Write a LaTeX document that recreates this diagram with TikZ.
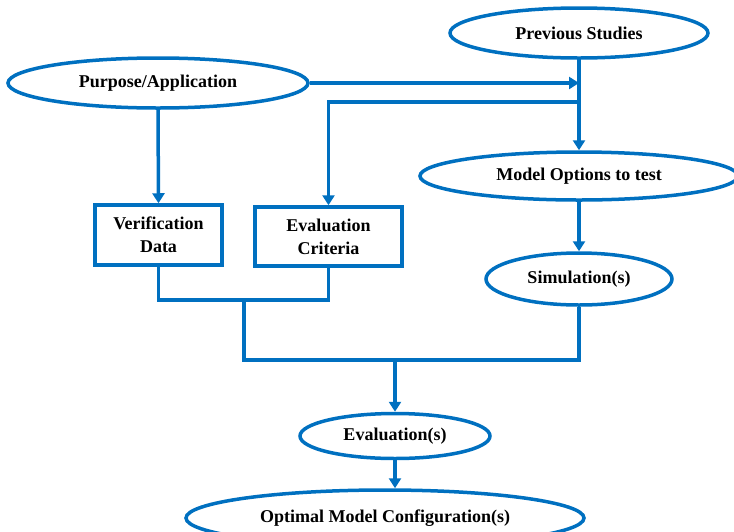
\documentclass[tikz,border=0pt]{standalone}
\usepackage{fontspec}
\setmainfont{Liberation Serif}
\usetikzlibrary{shapes.geometric,arrows.meta}
\definecolor{flowblue}{RGB}{0,112,192}
\begin{document}
\begin{tikzpicture}[x=1pt,y=-1pt,
  labelfont/.style={font=\bfseries\fontsize{18}{23}\selectfont},
  oval/.style={ellipse, draw=flowblue, line width=3.5pt, inner sep=0pt, labelfont},
  boxnode/.style={rectangle, draw=flowblue, line width=3.5pt, inner sep=0pt, align=center, labelfont},
  link/.style={draw=flowblue, line width=3.5pt},
  flow/.style={link, -{Triangle[length=10pt,width=12pt]}},
]
\useasboundingbox (0,0) rectangle (734,531);

% inputs
\node[oval, minimum width=258pt, minimum height=50pt] (prev) at (579,33) {Previous Studies};
\node[oval, minimum width=300pt, minimum height=50pt] (purpose) at (158,83) {Purpose/Application};

% requirements and model set-up
\node[boxnode, minimum width=127pt, minimum height=60pt] (verif) at (158.5,235) {Verification\\Data};
\node[boxnode, minimum width=147pt, minimum height=59pt] (crit) at (328.5,236.5) {Evaluation\\Criteria};
\node[oval, minimum width=318pt, minimum height=48pt] (model) at (579,176) {Model Options to test};
\node[oval, minimum width=186pt, minimum height=52pt] (sim) at (579,279) {Simulation(s)};

% outcome
\node[oval, minimum width=190pt, minimum height=45pt] (eval) at (395,436) {Evaluation(s)};
\node[oval, minimum width=398pt, minimum height=56pt] (opt) at (385,518) {Optimal Model Configuration(s)};

% junction points
\coordinate (tap) at (579,102);
\coordinate (j1) at (244,298);
\coordinate (j2) at (244,360);

% connectors
\draw[flow] (purpose.east) -- (prev.south |- purpose.east);
\draw[flow] (prev.south) -- (model.north);
\draw[flow] (tap) -| (crit.north);
\draw[flow] (purpose.south) -- (verif.north);
\draw[flow] (model.south) -- (sim.north);
\draw[link] (verif.south) -- ++(0,33) -| (crit.south);
\draw[link] (j1) -- (j2) -| (sim.south);
\draw[flow] (eval.north |- j2) -- (eval.north);
\draw[flow] (eval.south) -- (eval.south |- opt.north);
\end{tikzpicture}
\end{document}
